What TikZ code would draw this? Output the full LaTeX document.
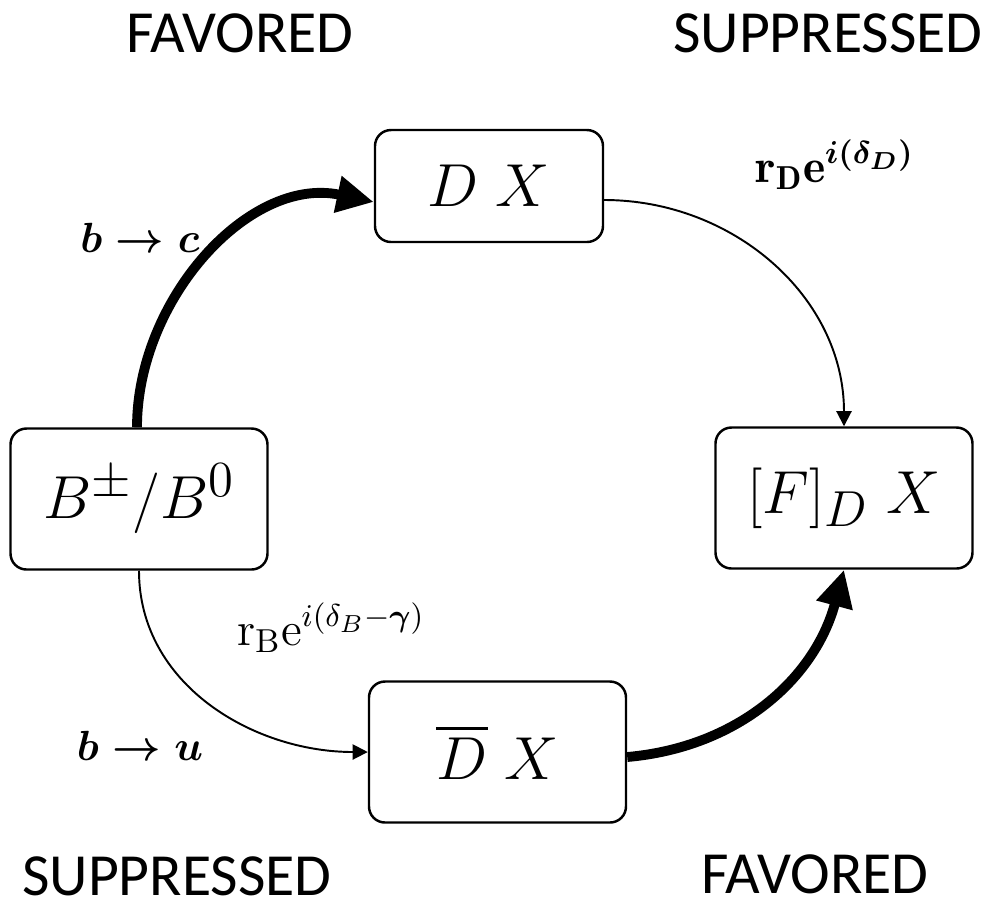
\documentclass[tikz,border=0pt]{standalone}
\usepackage{fontspec}
\usepackage{amsmath,amssymb}
\usetikzlibrary{arrows.meta,positioning}
\newfontfamily\capsfont{Carlito}
\definecolor{ink}{HTML}{000000}
\tikzset{
  statebox/.style={rectangle,rounded corners=0.16cm,draw=ink,line width=0.7pt,
    fill=white,text=ink,align=center,font=\fontsize{19}{22}\selectfont,
    minimum width=2.57cm,minimum height=1.41cm,inner sep=2pt},
  favarr/.style={-{Triangle[length=10.5pt,width=10pt]},line width=2.8pt,color=ink},
  suparr/.style={-{Triangle[length=4.3pt,width=4.3pt]},line width=0.55pt,color=ink},
  quarklabel/.style={font=\fontsize{12.5}{15}\selectfont,text=ink},
  ratelabel/.style={font=\fontsize{13.5}{16}\selectfont,text=ink},
  modelabel/.style={font=\capsfont\fontsize{17}{20}\selectfont,text=ink,inner sep=0pt},
}

\begin{document}
\begin{tikzpicture}
  \useasboundingbox (0,0) rectangle (10.01,-9.08);
  % states
  \node[statebox,minimum width=2.28cm,minimum height=1.12cm] (dx) at (4.89,-1.86) {$D\;X$};
  \node[statebox] (bmes) at (1.39,-4.99) {$B^{\pm}/B^{0}$};
  \node[statebox] (fdx) at (8.44,-4.98) {$[F]_D\;X$};
  \node[statebox] (dbx) at (4.975,-7.52) {$\overline{D}\;X$};

  % favored / suppressed tags
  \node[modelabel] (favtop) at (2.40,-0.33) {FAVORED};
  \node[modelabel] (suptop) at (8.28,-0.33) {SUPPRESSED};
  \node[modelabel] (supbot) at (1.77,-8.76) {SUPPRESSED};
  \node[modelabel] (favbot) at (8.15,-8.74) {FAVORED};

  % quark transitions and amplitudes
  \node[quarklabel] (bc) at (1.40,-2.38) {$\boldsymbol{b\rightarrow c}$};
  \node[quarklabel] (bu) at (1.40,-7.46) {$\boldsymbol{b\rightarrow u}$};
  \node[ratelabel] (rd) at (8.35,-1.65) {$\mathbf{r_D e}^{\boldsymbol{i(\delta_D)}}$};
  \node[ratelabel] (rb) at (3.31,-6.28) {$\mathrm{r_B e}^{i(\delta_B-\boldsymbol{\gamma})}$};

  \draw[favarr] ([xshift=-0.02cm]bmes.north) to[out=90,in=168] ([yshift=-0.16cm]dx.west);
  \draw[suparr] ([yshift=-0.14cm]dx.east) to[out=0,in=90] (fdx.north);
  \draw[suparr] (bmes.south) to[out=-90,in=180] (dbx.west);
  \draw[favarr] ([yshift=-0.05cm]dbx.east) to[out=5,in=255] (fdx.south);
\end{tikzpicture}
\end{document}
